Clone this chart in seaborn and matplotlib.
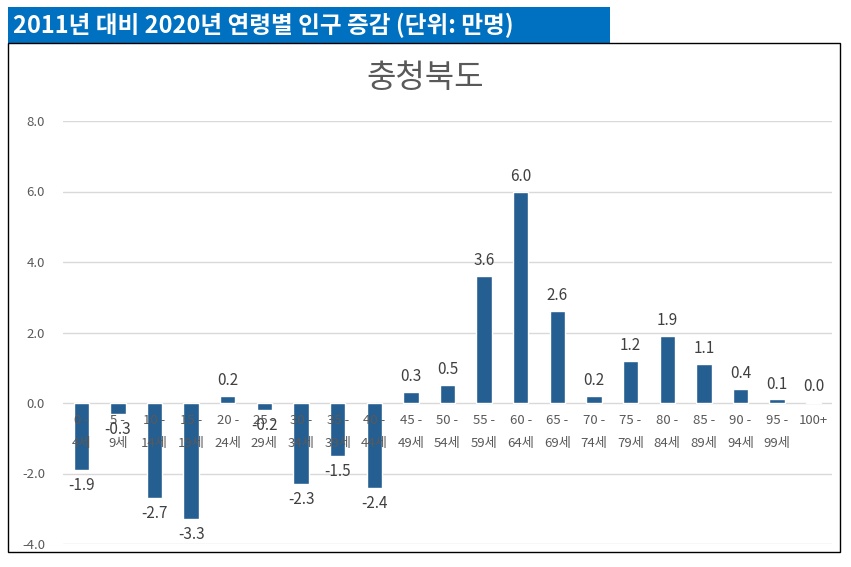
import matplotlib
matplotlib.use("Agg")
import matplotlib.pyplot as plt
from matplotlib.patches import Rectangle
import seaborn as sns
import pandas as pd

categories = ["0 -\n4세", "5 -\n9세", "10 -\n14세", "15 -\n19세", "20 -\n24세", "25 -\n29세",
              "30 -\n34세", "35 -\n39세", "40 -\n44세", "45 -\n49세", "50 -\n54세", "55 -\n59세",
              "60 -\n64세", "65 -\n69세", "70 -\n74세", "75 -\n79세", "80 -\n84세", "85 -\n89세",
              "90 -\n94세", "95 -\n99세", "100+"]
values = [-1.9, -0.3, -2.7, -3.3, 0.2, -0.2, -2.3, -1.5, -2.4, 0.3, 0.5, 3.6,
          6.0, 2.6, 0.2, 1.2, 1.9, 1.1, 0.4, 0.1, 0.04]
y_ticks = [-4.0, -2.0, 0.0, 2.0, 4.0, 6.0, 8.0]
banner_title = "2011년 대비 2020년 연령별 인구 증감 (단위: 만명)"
chart_title = "충청북도"

sns.set_theme(style="white")
plt.rcParams['font.family'] = ['Noto Sans CJK KR', 'DejaVu Sans']

df = pd.DataFrame({"age": categories, "value": values})

W, H = 851, 567
fig = plt.figure(figsize=(W / 100, H / 100), dpi=100)
ax = fig.add_axes([63 / W, 1 - 544 / H, (832 - 63) / W, (544 - 121) / H])

sns.barplot(data=df, x="age", y="value", color="#255E91", saturation=1,
            width=0.42, ax=ax, zorder=2)

ax.set_ylim(-4, 8)
ax.set_xlim(-0.5, len(categories) - 0.5)
ax.grid(False)
ax.set_axisbelow(False)
for t in y_ticks:
    ax.axhline(t, color="#D9D9D9", linewidth=1, zorder=0.5)
ax.set_yticks(y_ticks)
ax.set_yticklabels([f"{t:.1f}" for t in y_ticks], fontsize=9.5, color="#595959")
for s in ["top", "right", "left", "bottom"]:
    ax.spines[s].set_visible(False)
ax.spines["bottom"].set_position(("data", 0))
ax.tick_params(axis="both", length=0)
ax.tick_params(axis="y", pad=13)
ax.tick_params(axis="x", pad=8)
ax.set_xticks(range(len(categories)))
ax.set_xticklabels(categories, fontsize=9.5, color="#595959", linespacing=2.0, va="top")
ax.set_xlabel("")
ax.set_ylabel("")

labels = [f"{v:.1f}" for v in values]
ax.bar_label(ax.containers[0], labels=labels, padding=5, fontsize=11, color="#404040")

fig.text(425 / W, 1 - 78 / H, chart_title, fontsize=23, color="#595959",
         ha="center", va="center")

# banner and chart border
fig.patches.append(Rectangle((8 / W, 1 - 43 / H), (610 - 8) / W, 36 / H,
                             transform=fig.transFigure, facecolor="#0070C0",
                             edgecolor="none", zorder=0))
fig.text(13 / W, 1 - 25 / H, banner_title, color="white", fontsize=17,
         fontweight="bold", va="center", ha="left")
fig.patches.append(Rectangle((8 / W, 1 - 552 / H), (840 - 8) / W, (552 - 43) / H,
                             transform=fig.transFigure, facecolor="none",
                             edgecolor="black", linewidth=1, zorder=0))

fig.savefig("out.png", dpi=100)
